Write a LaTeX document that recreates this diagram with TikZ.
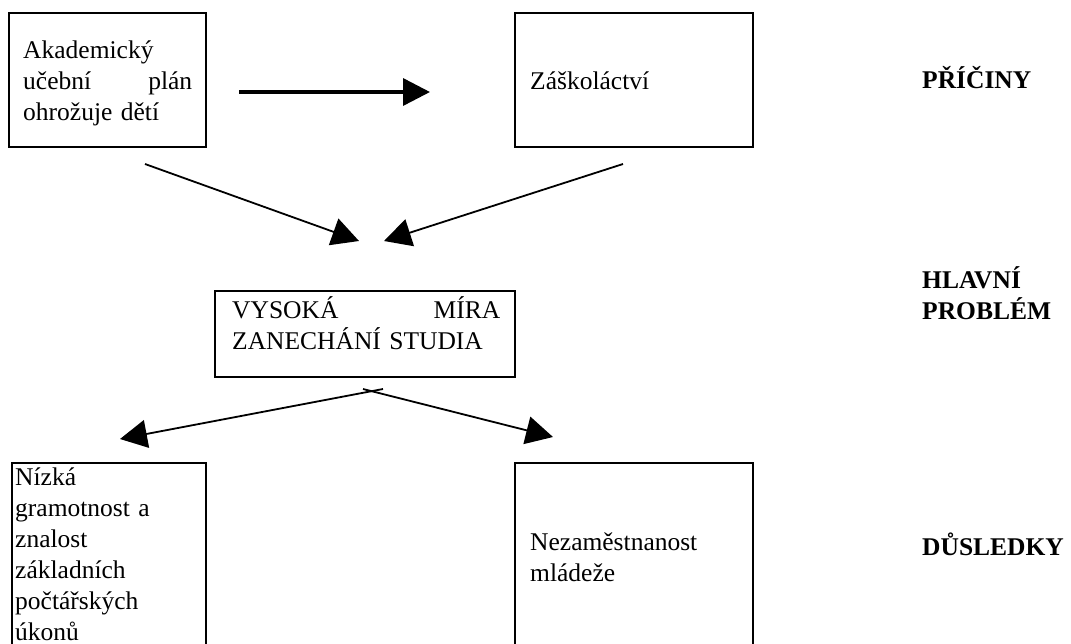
\documentclass[tikz,border=0pt]{standalone}
\usepackage{fontspec}
\setmainfont{Liberation Serif}
\usetikzlibrary{arrows.meta}
\begin{document}
\begin{tikzpicture}[x=1pt,y=-1pt,
  boxnode/.style={draw, line width=1.8pt, inner sep=0pt, outer sep=0pt, anchor=north west},
  txt/.style={anchor=base west, inner sep=0pt, align=left, font=\fontsize{25.5}{31}\selectfont},
  lbl/.style={anchor=base west, inner sep=0pt, align=left, font=\fontsize{25.5}{31}\selectfont\bfseries},
  thinarrow/.style={line width=1.8pt, -{Triangle[length=27pt,width=28pt]}},
  thickarrow/.style={line width=3.5pt, -{Triangle[length=27pt,width=27pt]}}]
\useasboundingbox (0,0) rectangle (1071,643);
\clip (0,0) rectangle (1071,643);
\fill[white] (0,0) rectangle (1071,643);
% boxes
\node[boxnode, minimum width=197pt, minimum height=134pt] (b1) at (9,13) {};
\node[boxnode, minimum width=238pt, minimum height=134pt] (b2) at (515,13) {};
\node[boxnode, minimum width=300pt, minimum height=86pt] (b3) at (215,291) {};
\node[boxnode, minimum width=194pt, minimum height=200pt] (b4) at (12,463) {};
\node[boxnode, minimum width=238pt, minimum height=200pt] (b5) at (515,463) {};
% texts
\node[txt, text width=169pt] (t1) at (23,58) {Akademický\\ učební\hfill plán\\ ohrožuje dětí};
\node[txt] (t2) at (530,89) {Záškoláctví};
\node[txt, text width=268pt] (t3) at (232,318) {VYSOKÁ\hfill MÍRA\\ ZANECHÁNÍ STUDIA};
\node[txt, text width=180pt] (t4) at (15,485) {Nízká\\ gramotnost a\\ znalost\\ základních\\ počtářských\\ úkonů};
\node[txt, text width=220pt] (t5) at (530,550) {Nezaměstnanost\\ mládeže};
% labels
\node[lbl] (l1) at (922,88) {PŘÍČINY};
\node[lbl] (l2) at (922,319) {HLAVNÍ\\ PROBLÉM};
\node[lbl] (l3) at (922,555) {DŮSLEDKY};
% connector end points
\coordinate (h1) at (239,92);
\coordinate (h2) at (430,92);
\coordinate (d1s) at (145,164);
\coordinate (d1e) at (359,241);
\coordinate (d2s) at (623,164);
\coordinate (d2e) at (384,241);
\coordinate (e1s) at (383,389);
\coordinate (e1e) at (120,439);
\coordinate (e2s) at (363,389);
\coordinate (e2e) at (553,437);
% connectors
\draw[thickarrow] (h1) -- (h2);
\draw[thinarrow] (d1s) -- (d1e);
\draw[thinarrow] (d2s) -- (d2e);
\draw[thinarrow] (e1s) -- (e1e);
\draw[thinarrow] (e2s) -- (e2e);
\end{tikzpicture}
\end{document}
